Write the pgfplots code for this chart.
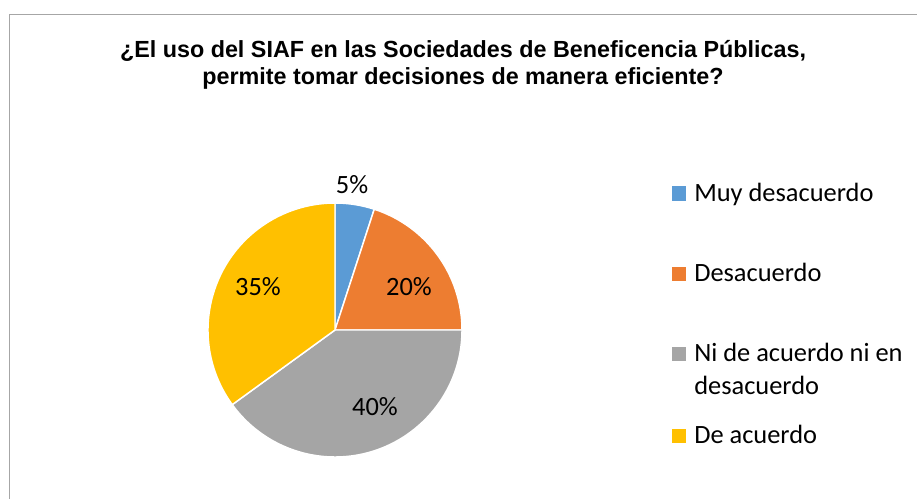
\documentclass[border=0pt]{standalone}
\usepackage{pgfplots}
\pgfplotsset{compat=1.18}
\usepackage{fontspec}
\setmainfont{Carlito}
\newfontfamily\titlefont{Liberation Sans}

\definecolor{cBlue}{HTML}{5B9BD5}
\definecolor{cOrange}{HTML}{ED7D31}
\definecolor{cGray}{HTML}{A5A5A5}
\definecolor{cYellow}{HTML}{FFC000}
\definecolor{frameGray}{HTML}{A6A6A6}

% 1 px of the reference = 0.75pt
\def\R{95.25pt}   % pie radius (127 px)

\begin{document}
\begin{tikzpicture}
\path[use as bounding box] (0,0) rectangle (687.75pt,374.25pt);
\begin{axis}[at={(0,0)},anchor=south west,scale only axis,
  width=687.75pt,height=374.25pt,
  xmin=0,xmax=917,ymin=0,ymax=499,y dir=reverse,
  hide axis,clip=false]
% frame
\draw[frameGray,line width=1pt] (axis cs:9.5,520) -- (axis cs:9.5,14.5) -- (axis cs:940,14.5);
% title
\node[font=\titlefont\bfseries\fontsize{17.5}{20}\selectfont,anchor=base] at (axis cs:463,57.5)
  {¿El uso del SIAF en las Sociedades de Beneficencia Públicas,};
\node[font=\titlefont\bfseries\fontsize{17.5}{20}\selectfont,anchor=base] at (axis cs:463,85)
  {permite tomar decisiones de manera eficiente?};
% pie slices: 5, 20, 40, 35 percent, clockwise from 12 o'clock
\filldraw[fill=cBlue,draw=white,line width=1.1pt] (axis cs:335,330) -- ++(90:\R)
  arc[start angle=90,end angle={90-3.6*5},radius=\R] -- cycle;
\filldraw[fill=cOrange,draw=white,line width=1.1pt] (axis cs:335,330) -- ++({90-3.6*5}:\R)
  arc[start angle={90-3.6*5},end angle={90-3.6*25},radius=\R] -- cycle;
\filldraw[fill=cGray,draw=white,line width=1.1pt] (axis cs:335,330) -- ++({90-3.6*25}:\R)
  arc[start angle={90-3.6*25},end angle={90-3.6*65},radius=\R] -- cycle;
\filldraw[fill=cYellow,draw=white,line width=1.1pt] (axis cs:335,330) -- ++({90-3.6*65}:\R)
  arc[start angle={90-3.6*65},end angle={90-3.6*100},radius=\R] -- cycle;
% data labels
\begin{scope}[every node/.style={font=\fontsize{19.8}{22}\selectfont}]
\node at (axis cs:352,185) {5\%};
\node at (axis cs:409,287) {20\%};
\node at (axis cs:375,407) {40\%};
\node at (axis cs:258,287) {35\%};
\end{scope}
% legend
\begin{scope}[every node/.style={font=\fontsize{19.8}{22}\selectfont,anchor=base west,inner sep=0pt}]
\fill[cBlue]   (axis cs:672,186.5) rectangle (axis cs:686,200.5);
\node at (axis cs:694,201) {Muy desacuerdo};
\fill[cOrange] (axis cs:672,267) rectangle (axis cs:686,281);
\node at (axis cs:694,281) {Desacuerdo};
\fill[cGray]   (axis cs:672,347) rectangle (axis cs:686,361);
\node at (axis cs:694,361) {Ni de acuerdo ni en};
\node at (axis cs:694,394) {desacuerdo};
\fill[cYellow] (axis cs:672,428.5) rectangle (axis cs:686,442.5);
\node at (axis cs:694,443) {De acuerdo};
\end{scope}
\end{axis}
\end{tikzpicture}
\end{document}
